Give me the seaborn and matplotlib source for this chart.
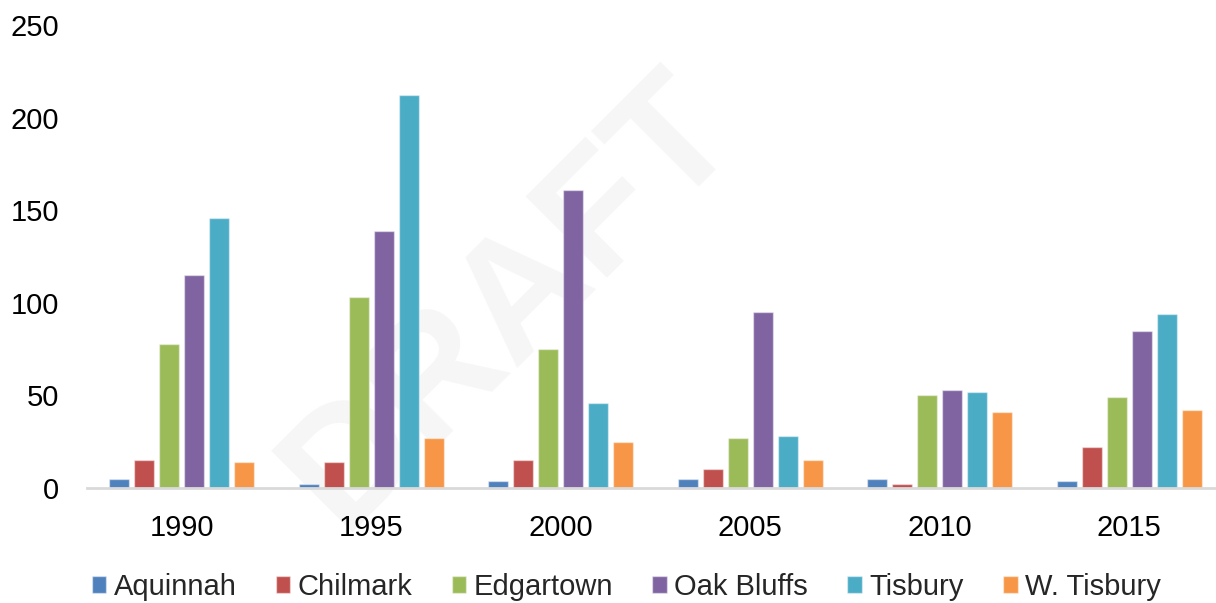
import matplotlib
matplotlib.use("Agg")
import matplotlib.pyplot as plt
import seaborn as sns
import pandas as pd

years = ["1990", "1995", "2000", "2005", "2010", "2015"]
towns = ["Aquinnah", "Chilmark", "Edgartown", "Oak Bluffs", "Tisbury", "W. Tisbury"]

aquinnah = [5, 2, 4, 5, 5, 4]
chilmark = [15, 14, 15, 10, 2, 22]
edgartown = [78, 103, 75, 27, 50, 49]
oak_bluffs = [115, 139, 161, 95, 53, 85]
tisbury = [146, 212, 46, 28, 52, 94]
w_tisbury = [14, 27, 25, 15, 41, 42]

colors = ["#4F81BD", "#C0504D", "#9BBB59", "#8064A2", "#4BACC6", "#F79646"]

series = [aquinnah, chilmark, edgartown, oak_bluffs, tisbury, w_tisbury]
rows = []
for town, vals in zip(towns, series):
    for yr, v in zip(years, vals):
        rows.append({"Year": yr, "Town": town, "Count": v})
df = pd.DataFrame(rows)

sns.set_theme(style="white")
plt.rcParams["font.family"] = ["Liberation Sans", "DejaVu Sans"]

fig = plt.figure(figsize=(12.16, 6.03), dpi=100)

# faint watermark on a background layer behind the bars
bg = fig.add_axes([0, 0, 1, 1], zorder=-1)
bg.set_axis_off()
bg.text(0.42, 0.50, "DRAFT", rotation=45, fontsize=120, fontweight="bold",
        color="#f6f6f6", ha="center", va="center", transform=bg.transAxes)

ax = fig.add_axes([87 / 1216, (603 - 488) / 603, (1224 - 87) / 1216, (488 - 25) / 603])
ax.patch.set_alpha(0)

sns.barplot(data=df, x="Year", y="Count", hue="Town", hue_order=towns,
            order=years, palette=colors, saturation=1, width=0.79, gap=0.2,
            edgecolor=(1, 1, 1, 0.45), linewidth=1.0, ax=ax)

ax.set_xlim(-0.5, 5.5)
ax.set_ylim(0, 250)
ax.set_yticks([0, 50, 100, 150, 200, 250])
ax.set_xlabel("")
ax.set_ylabel("")
ax.tick_params(axis="both", length=0, labelsize=21, colors="black")
ax.tick_params(axis="y", pad=20)
ax.tick_params(axis="x", pad=19)

for side in ["top", "right", "left"]:
    ax.spines[side].set_visible(False)
ax.spines["bottom"].set_color("#d9d9d9")
ax.spines["bottom"].set_linewidth(2)

handles, labels = ax.get_legend_handles_labels()
ax.legend_.remove()
fig.legend(handles, labels, loc="center", bbox_to_anchor=(0.515, 0.027),
           ncol=6, frameon=False, fontsize=21, handlelength=0.5,
           handleheight=0.5, handletextpad=0.25, columnspacing=1.35)

fig.savefig("out.png", dpi=100)
